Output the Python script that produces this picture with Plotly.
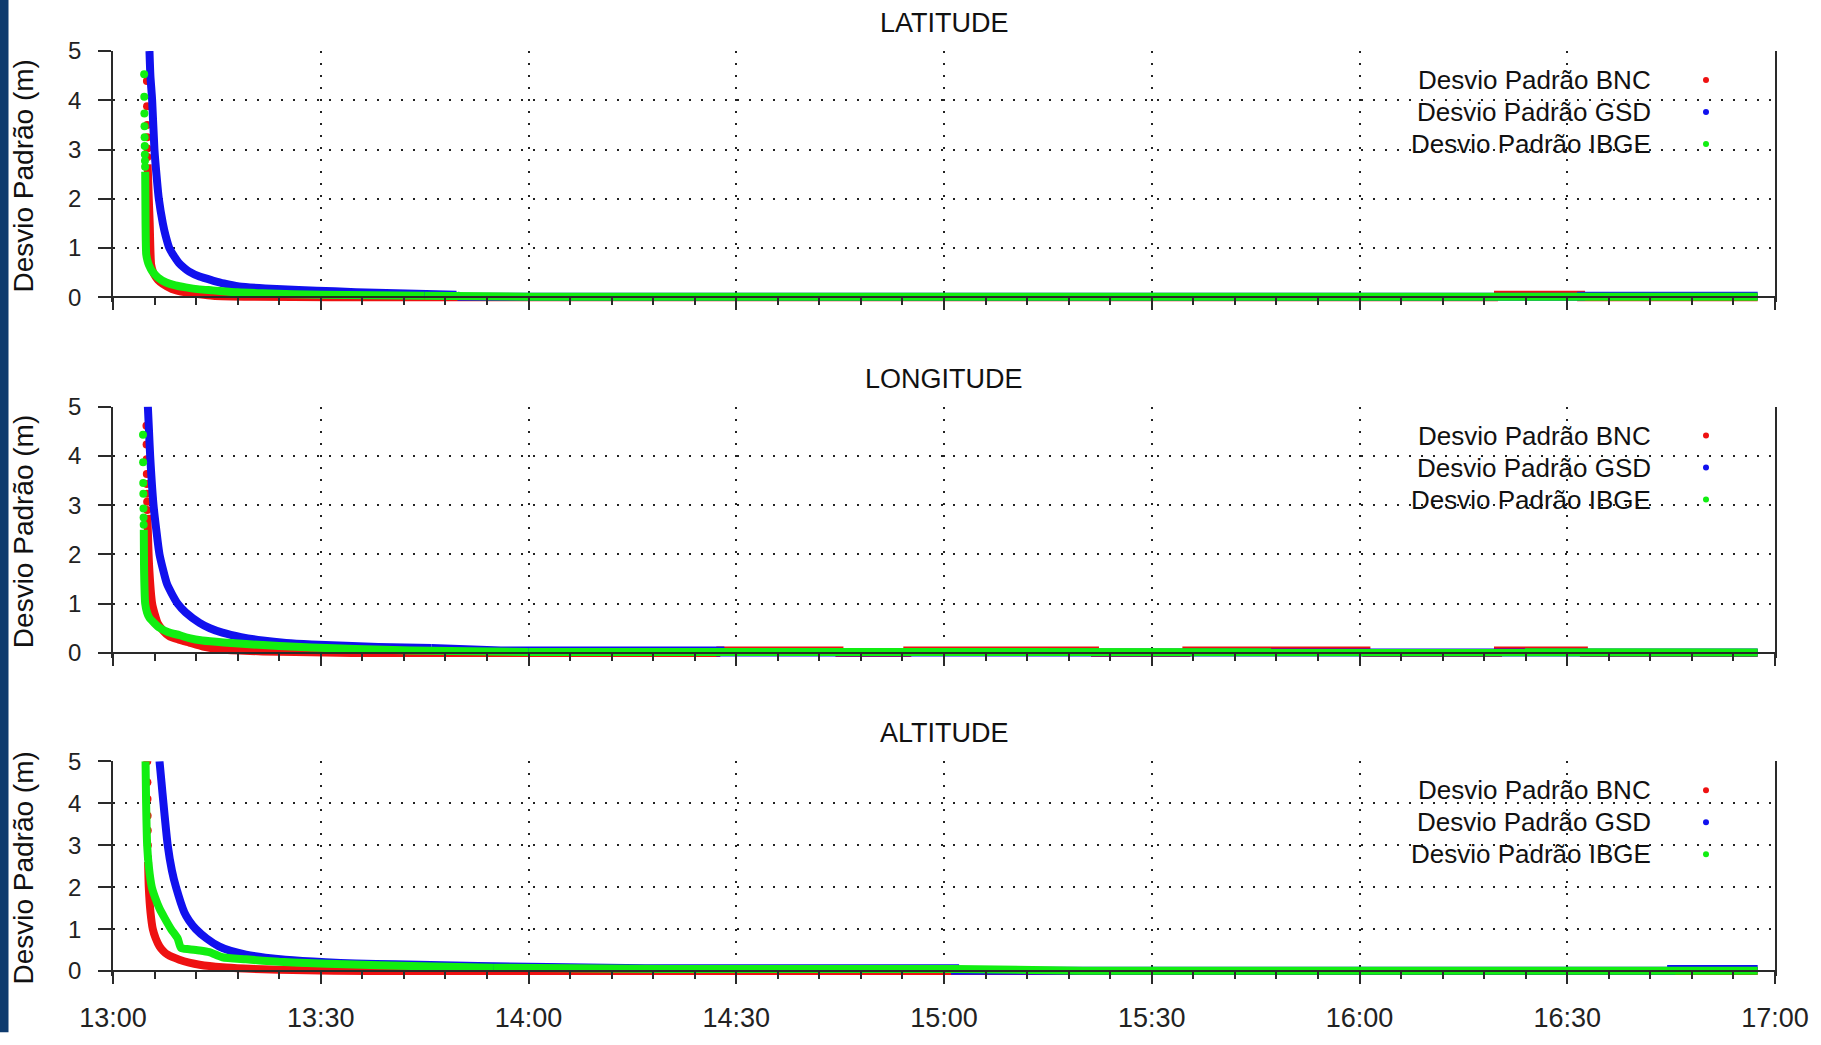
import plotly.graph_objects as go

DAY = "2021-01-01 "

# ---------------- LATITUDE ----------------
lat_bnc_head_t = ["13:04:54", "13:04:55", "13:04:56", "13:04:57", "13:04:58", "13:04:59"]
lat_bnc_head_v = [4.39, 3.88, 3.50, 3.25, 3.02, 2.85]
lat_bnc_t = ["13:05:00", "13:05:10", "13:05:18", "13:05:30", "13:05:45", "13:06:00", "13:06:30", "13:07:12",
             "13:08:30", "13:10:30", "13:12:30", "13:14:24", "13:20:00", "13:40:00", "16:20:00", "16:20:00",
             "16:32:00", "16:32:00", "16:57:30"]
lat_bnc_v = [2.70, 2.00, 1.50, 0.67, 0.53, 0.45, 0.35, 0.27, 0.17, 0.10, 0.06, 0.03, 0.01, 0.0, 0.0, 0.05,
             0.05, 0.0, 0.0]

lat_gsd_t = ["13:05:16", "13:05:24", "13:05:39", "13:05:59", "13:06:20", "13:06:37", "13:07:12", "13:07:36",
             "13:08:08", "13:08:45", "13:09:30", "13:10:15", "13:11:00", "13:12:30", "13:14:24", "13:16:00",
             "13:18:12", "13:22:00", "13:26:48", "13:32:00", "13:38:00", "13:49:36", "13:50:00", "16:32:00",
             "16:32:00", "16:57:30"]
lat_gsd_v = [5.0, 4.5, 4.0, 3.0, 2.4, 2.0, 1.5, 1.25, 1.0, 0.85, 0.70, 0.60, 0.52, 0.42, 0.34, 0.28, 0.22,
             0.18, 0.15, 0.12, 0.09, 0.05, 0.01, 0.01, 0.03, 0.03]

lat_ibge_head_t = ["13:04:30", "13:04:31", "13:04:32", "13:04:33", "13:04:34", "13:04:35", "13:04:36",
                   "13:04:37", "13:04:38"]
lat_ibge_head_v = [4.53, 4.07, 3.73, 3.47, 3.25, 3.07, 2.90, 2.77, 2.65]
lat_ibge_t = ["13:04:39", "13:04:42", "13:04:48", "13:05:00", "13:05:12", "13:05:39", "13:06:30", "13:07:40",
              "13:09:00", "13:10:30", "13:12:30", "13:14:24", "13:18:00", "13:21:36", "13:30:00", "13:45:00",
              "14:00:00", "16:57:30"]
lat_ibge_v = [2.55, 1.50, 0.87, 0.73, 0.65, 0.53, 0.40, 0.30, 0.24, 0.20, 0.16, 0.14, 0.10, 0.08, 0.05,
              0.03, 0.01, 0.01]

# ---------------- LONGITUDE ----------------
lon_bnc_head_t = ["13:04:50", "13:04:51", "13:04:52", "13:04:53", "13:04:54", "13:04:55", "13:04:56", "13:04:57"]
lon_bnc_head_v = [4.61, 4.23, 3.93, 3.63, 3.43, 3.23, 3.07, 2.90]
lon_bnc_t = ["13:04:58", "13:05:12", "13:05:39", "13:06:00", "13:06:28", "13:07:15", "13:08:06", "13:09:30",
             "13:11:00", "13:13:00", "13:15:48", "13:21:36", "13:34:30", "14:27:42", "14:27:42", "14:44:54",
             "14:44:54", "14:54:42", "14:54:42", "15:21:48", "15:21:48", "15:35:00", "15:35:00", "16:01:00",
             "16:01:00", "16:20:00", "16:20:00", "16:32:24", "16:32:24", "16:57:30"]
lon_bnc_v = [2.80, 1.80, 1.00, 0.80, 0.60, 0.45, 0.34, 0.27, 0.21, 0.13, 0.07, 0.03, 0.0, 0.0, 0.05, 0.05,
             0.0, 0.0, 0.05, 0.05, 0.0, 0.0, 0.05, 0.05, 0.0, 0.0, 0.05, 0.05, 0.0, 0.0]

lon_gsd_t = ["13:05:02", "13:05:12", "13:05:22", "13:05:51", "13:06:15", "13:06:43", "13:07:48", "13:08:30",
             "13:09:20", "13:10:30", "13:12:30", "13:14:00", "13:15:48", "13:18:30", "13:21:36", "13:25:00",
             "13:28:42", "13:38:18", "13:46:00", "13:55:00", "13:56:00", "14:27:42", "14:27:42", "16:57:30"]
lon_gsd_v = [5.0, 4.5, 4.0, 3.0, 2.5, 2.0, 1.4, 1.2, 1.0, 0.82, 0.61, 0.50, 0.41, 0.32, 0.25, 0.20, 0.17,
             0.12, 0.10, 0.07, 0.05, 0.05, 0.01, 0.01]

lon_ibge_head_t = ["13:04:20", "13:04:21", "13:04:22", "13:04:23", "13:04:24", "13:04:25", "13:04:26"]
lon_ibge_head_v = [4.43, 3.87, 3.45, 3.23, 2.93, 2.75, 2.60]
lon_ibge_t = ["13:04:27", "13:04:30", "13:04:39", "13:04:55", "13:05:16", "13:06:00", "13:06:43", "13:08:00",
              "13:09:35", "13:11:00", "13:12:54", "13:16:00", "13:19:12", "13:24:00", "13:28:42", "13:35:00",
              "13:43:00", "14:00:00", "16:57:30"]
lon_ibge_v = [2.50, 1.60, 1.00, 0.82, 0.71, 0.60, 0.51, 0.42, 0.36, 0.30, 0.25, 0.21, 0.18, 0.14, 0.11,
              0.08, 0.05, 0.02, 0.01]

# ---------------- ALTITUDE ----------------
alt_bnc_head_t = ["13:04:57", "13:04:58", "13:04:59", "13:05:00", "13:05:01", "13:05:02", "13:05:03"]
alt_bnc_head_v = [5.0, 4.5, 4.1, 3.7, 3.35, 3.0, 2.7]
alt_bnc_t = ["13:05:04", "13:05:10", "13:05:25", "13:05:45", "13:06:10", "13:06:43", "13:07:15", "13:07:54",
             "13:09:35", "13:11:00", "13:12:30", "13:15:48", "13:19:00", "13:24:00", "13:37:00", "16:57:30"]
alt_bnc_v = [2.60, 2.00, 1.40, 1.00, 0.78, 0.59, 0.48, 0.39, 0.27, 0.20, 0.15, 0.09, 0.06, 0.03, 0.0, 0.0]

alt_gsd_t = ["13:06:43", "13:07:00", "13:07:17", "13:07:54", "13:08:30", "13:09:06", "13:10:18", "13:11:00",
             "13:11:58", "13:13:30", "13:15:18", "13:17:00", "13:19:12", "13:22:00", "13:24:54", "13:30:42",
             "13:35:00", "13:40:42", "13:52:42", "14:00:00", "14:16:54", "14:16:54", "15:01:36", "15:01:36",
             "16:45:00", "16:45:00", "16:57:30"]
alt_gsd_v = [5.0, 4.5, 4.0, 3.0, 2.4, 2.0, 1.4, 1.2, 1.0, 0.78, 0.59, 0.48, 0.39, 0.32, 0.27, 0.21, 0.18,
             0.16, 0.12, 0.11, 0.10, 0.07, 0.07, 0.01, 0.01, 0.05, 0.05]

alt_ibge_head_t = []
alt_ibge_head_v = []
alt_ibge_t = ["13:04:42", "13:04:47", "13:04:56", "13:05:10", "13:05:36", "13:06:05", "13:06:43", "13:07:30",
              "13:08:23", "13:09:20", "13:09:49", "13:11:00", "13:12:30", "13:13:54", "13:15:48", "13:19:12",
              "13:24:00", "13:28:00", "13:33:30", "13:43:06", "13:55:00", "14:20:00", "15:01:36", "15:15:00",
              "15:20:00", "16:57:30"]
alt_ibge_v = [5.0, 4.0, 3.0, 2.5, 2.0, 1.75, 1.49, 1.25, 1.0, 0.78, 0.55, 0.52, 0.49, 0.45, 0.33, 0.28,
              0.22, 0.19, 0.16, 0.12, 0.08, 0.05, 0.05, 0.03, 0.01, 0.01]

panel_titles = ["LATITUDE", "LONGITUDE", "ALTITUDE"]
series_names = ["Desvio Padrão BNC", "Desvio Padrão GSD", "Desvio Padrão IBGE"]
series_colors = ["#ee1111", "#1111ee", "#11ee11"]
y_ticks = [0, 1, 2, 3, 4, 5]
y_title = "Desvio Padrão (m)"
x_start, x_end = "13:00", "17:00"
curve_end = "13:45:00"   # decay part drawn smoothed, flat tail drawn straight

panels = [
    [(lat_bnc_head_t, lat_bnc_head_v, lat_bnc_t, lat_bnc_v),
     ([], [], lat_gsd_t, lat_gsd_v),
     (lat_ibge_head_t, lat_ibge_head_v, lat_ibge_t, lat_ibge_v)],
    [(lon_bnc_head_t, lon_bnc_head_v, lon_bnc_t, lon_bnc_v),
     ([], [], lon_gsd_t, lon_gsd_v),
     (lon_ibge_head_t, lon_ibge_head_v, lon_ibge_t, lon_ibge_v)],
    [(alt_bnc_head_t, alt_bnc_head_v, alt_bnc_t, alt_bnc_v),
     ([], [], alt_gsd_t, alt_gsd_v),
     (alt_ibge_head_t, alt_ibge_head_v, alt_ibge_t, alt_ibge_v)],
]

# ---------------- layout geometry ----------------
W, H = 1821, 1045
ML, MR, MT, MB = 113, 38, 51, 55
PLOT_H = H - MT - MB
PLOT_W = W - ML - MR
FONT = "Liberation Sans, Arial, sans-serif"
AX = "#2a2a2a"
GRID = "#222222"
LINE_W = 8


def py2paper(py):
    return (H - MB - py) / PLOT_H


def px2paper(px):
    return (px - ML) / PLOT_W


panel_px = [(51, 301), (412, 662), (772, 985)]
PAD = 5


def ts(lst):
    return [DAY + t for t in lst]


fig = go.Figure()
layout = dict(
    width=W, height=H, autosize=False, margin=dict(l=ML, r=MR, t=MT, b=MB),
    paper_bgcolor="white", plot_bgcolor="white", showlegend=False,
    font=dict(family=FONT, color="#111111"),
)
annotations = []
shapes = []

for i, (title, series) in enumerate(zip(panel_titles, panels)):
    n = i + 1
    xa = "x" if n == 1 else f"x{n}"
    ya = "y" if n == 1 else f"y{n}"
    top, zero = panel_px[i]
    ppu = (zero - top) / 5.0
    lo = -PAD / ppu

    for (ht, hv, bt, bv), color, name in zip(series, series_colors, series_names):
        cut = next((j for j, t in enumerate(bt) if t >= curve_end), len(bt) - 1)
        fig.add_trace(go.Scatter(x=ts(bt[:cut + 1]), y=bv[:cut + 1], mode="lines", name=name,
                                 line=dict(color=color, width=LINE_W, shape="spline", smoothing=0.6),
                                 xaxis=xa, yaxis=ya, hoverinfo="skip"))
        if cut < len(bt) - 1:
            fig.add_trace(go.Scatter(x=ts(bt[cut:]), y=bv[cut:], mode="lines", name=name,
                                     line=dict(color=color, width=LINE_W), xaxis=xa, yaxis=ya,
                                     hoverinfo="skip"))
        if ht:
            fig.add_trace(go.Scatter(x=ts(ht), y=hv, mode="markers", name=name,
                                     marker=dict(color=color, size=8), xaxis=xa, yaxis=ya,
                                     hoverinfo="skip"))

    common_x = dict(
        type="date", range=[DAY + x_start, DAY + x_end],
        tick0=DAY + x_start, dtick=30 * 60 * 1000, tickformat="%H:%M",
        ticks="outside", ticklen=12, tickwidth=1.5, tickcolor=AX,
        minor=dict(dtick=6 * 60 * 1000, tick0=DAY + x_start, ticks="outside", ticklen=7,
                   tickwidth=1.5, tickcolor=AX, showgrid=False),
        showline=True, linecolor=AX, linewidth=1.5, zeroline=False,
    )
    layout[f"xaxis{'' if n == 1 else n}"] = dict(
        common_x, anchor="free", position=py2paper(zero), domain=[0, 1],
        showgrid=True, gridcolor=GRID, gridwidth=2, griddash="2px,10px",
        showticklabels=(n == 3), tickfont=dict(size=27, color="#222222"),
        ticklabelstandoff=11,
    )
    layout[f"xaxis{n + 3}"] = dict(
        common_x, overlaying=xa, side="top", anchor=ya, showgrid=False,
        showticklabels=False,
    )
    layout[f"yaxis{'' if n == 1 else n}"] = dict(
        domain=[py2paper(zero + PAD), py2paper(top)], anchor=xa, range=[lo, 5],
        tickvals=y_ticks, ticks="outside", ticklen=13, tickwidth=1.5, tickcolor=AX,
        showline=True, mirror=True, linecolor=AX, linewidth=1.5, zeroline=False,
        showgrid=True, gridcolor=GRID, gridwidth=2, griddash="2px,10px",
        tickfont=dict(size=24, color="#222222"), ticklabelstandoff=12,
    )

    # panel title
    annotations.append(dict(text=title, xref=f"{xa} domain", yref=f"{ya} domain", x=0.5, y=1,
                            xanchor="center", yanchor="middle", yshift=28,
                            showarrow=False, font=dict(size=27, color="#111111")))
    # y title
    annotations.append(dict(text=y_title, xref="paper", yref="paper", x=px2paper(23),
                            y=py2paper((top + zero) / 2 + 2), textangle=-90, xanchor="center",
                            yanchor="middle", showarrow=False, font=dict(size=28, color="#111111")))
    # legend (text right-aligned, marker on the right)
    for k, (name, color) in enumerate(zip(series_names, series_colors)):
        off = 29 + 32 * k
        annotations.append(dict(text=name, xref=f"{xa} domain", yref=f"{ya} domain", x=1, y=1,
                                xanchor="right", yanchor="middle", xshift=-122, yshift=-off,
                                showarrow=False, font=dict(size=26, color="#111111")))
        shapes.append(dict(type="circle", xref=f"{xa} domain", yref=f"{ya} domain",
                           xsizemode="pixel", ysizemode="pixel", xanchor=1, yanchor=1,
                           x0=-72, x1=-66, y0=-off - 3, y1=-off + 3,
                           fillcolor=color, line=dict(width=0)))

# dark strip on the left edge of the slide
shapes.append(dict(type="rect", xref="paper", yref="paper", x0=px2paper(-2), x1=px2paper(8),
                   y0=py2paper(H + 2), y1=py2paper(-2), fillcolor="#0e3b6e", line=dict(width=0),
                   layer="above"))

layout["annotations"] = annotations
layout["shapes"] = shapes
fig.update_layout(**layout)

fig.write_html("out.html", config={"displayModeBar": False, "responsive": False},
               post_script="document.body.style.margin='0';document.body.style.overflow='hidden';")
